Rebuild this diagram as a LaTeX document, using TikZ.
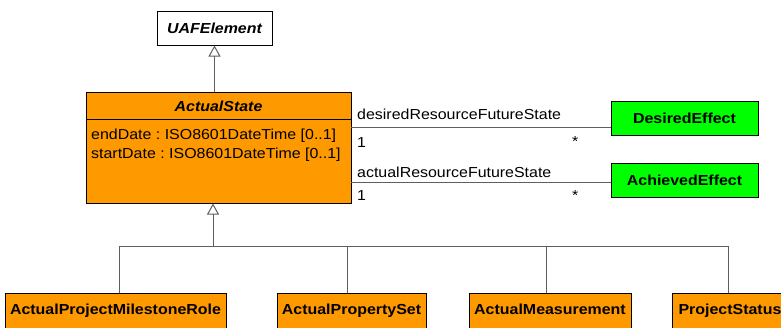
\documentclass[tikz,border=0pt]{standalone}
\usepackage{fontspec}
\setmainfont{Liberation Sans}[FakeStretch=1.1]
\usetikzlibrary{arrows.meta}
\definecolor{umlorange}{RGB}{255,153,0}
\definecolor{umlgreen}{RGB}{0,255,0}
\definecolor{conncol}{RGB}{95,95,95}
\frenchspacing
\begin{document}
\begin{tikzpicture}[x=1pt,y=-1pt,
  font=\fontsize{14.5}{17}\selectfont,
  box/.style={draw=black, line width=1pt, inner sep=0pt},
  boxtext/.style={box, text height=10.4pt, text depth=0pt},
  lowbox/.style={draw=black, line width=1pt, fill=umlorange, inner xsep=0pt, inner ysep=11pt,
     text height=10.4pt, text depth=30pt, anchor=north, font=\fontsize{14.5}{17}\selectfont\bfseries},
  conn/.style={draw=conncol, line width=1pt},
  gen/.style={conn, -{Triangle[open, width=12pt, length=11pt]}},
  lbl/.style={anchor=base west, inner sep=0pt}
]
\clip (0,0) rectangle (781,327);
\useasboundingbox (0,0) rectangle (781,327);
\fill[white] (0,0) rectangle (781,327);

% UAFElement
\node[boxtext, fill=white, minimum width=115pt, minimum height=34pt, font=\fontsize{14.5}{17}\selectfont\bfseries\itshape] (uaf) at (214.5,28) {UAFElement};

% ActualState
\node[box, fill=umlorange, minimum width=265pt, minimum height=111pt] (as) at (218.5,147.5) {};
\node[anchor=base, inner sep=0pt, font=\fontsize{14.5}{17}\selectfont\bfseries\itshape] (astitle) at (218.5,111) {ActualState};
\draw[line width=1pt] (as.west |- 0,119) -- (as.east |- 0,119);
\node[lbl] (attr1) at (91,139) {endDate : ISO8601DateTime [0..1]};
\node[lbl] (attr2) at (91,158) {startDate : ISO8601DateTime [0..1]};

% Effects
\node[boxtext, fill=umlgreen, minimum width=147pt, minimum height=34pt, font=\fontsize{14.5}{17}\selectfont\bfseries] (de) at (684.5,118.5) {DesiredEffect};
\node[boxtext, fill=umlgreen, minimum width=147pt, minimum height=34pt, font=\fontsize{14.5}{17}\selectfont\bfseries] (ae) at (684.5,180) {AchievedEffect};

% associations
\coordinate (dl) at (351,127.7);
\coordinate (al) at (351,182.7);
\draw[conn] (dl) -- (dl -| de.west);
\draw[conn] (al) -- (al -| ae.west);
\node[lbl] (dname) at (357,119) {desiredResourceFutureState};
\node[lbl] (d1) at (357,147) {1};
\node[lbl] (dstar) at (572,146) {*};
\node[lbl] (aname) at (357,177) {actualResourceFutureState};
\node[lbl] (a1) at (357,200) {1};
\node[lbl] (astar) at (572,200) {*};

% generalization to UAFElement
\draw[gen] (uaf.south |- as.north) -- (uaf.south);

% bottom boxes
\node[lowbox, minimum width=221pt] (apmr) at (115.5,293) {ActualProjectMilestoneRole};
\node[lowbox, minimum width=149pt] (aps) at (351.5,293) {ActualPropertySet};
\node[lowbox, minimum width=162pt] (am) at (550,293) {ActualMeasurement};
\node[lowbox, minimum width=116pt] (ps) at (730,293) {ProjectStatus};

% generalization tree
\coordinate (j) at (213,246);
\coordinate (t1) at (119,246);
\coordinate (t2) at (347,246);
\coordinate (t3) at (546,246);
\coordinate (t4) at (728,246);
\draw[gen] (j) -- (j |- as.south);
\draw[conn] (t1) -- (t4);
\draw[conn] (t1) -- (t1 |- apmr.north);
\draw[conn] (t2) -- (t2 |- aps.north);
\draw[conn] (t3) -- (t3 |- am.north);
\draw[conn] (t4) -- (t4 |- ps.north);
\end{tikzpicture}
\end{document}
